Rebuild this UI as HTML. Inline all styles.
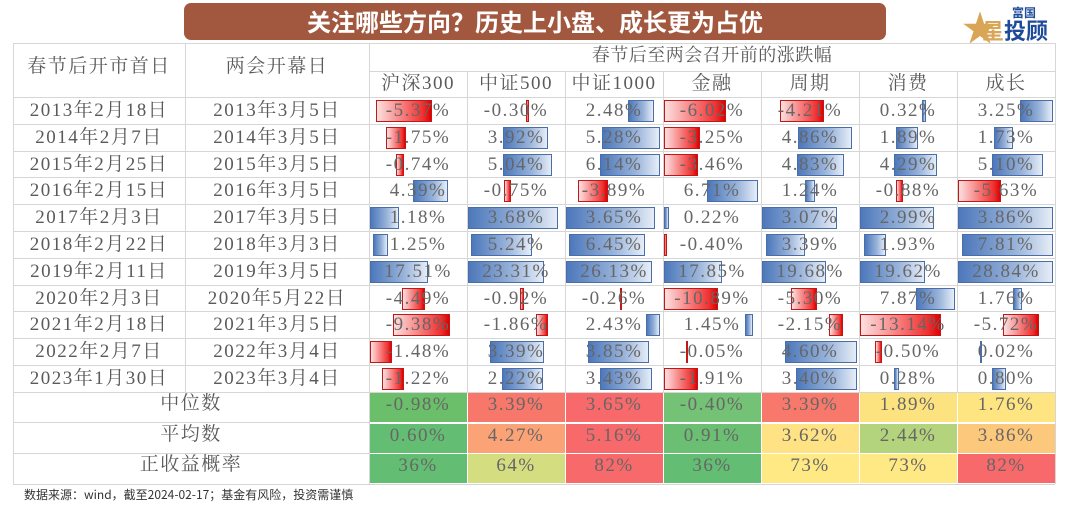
<!DOCTYPE html>
<html style="width:1080px;height:513px;overflow:hidden"><head><meta charset="utf-8">
<style>
html,body{margin:0;width:1080px;height:513px;overflow:hidden}
body{background:#fff;position:relative;font-family:"Liberation Serif","Noto Serif CJK SC",serif;color:#555}
.a{position:absolute}
.t{position:absolute;text-align:center;white-space:nowrap;font-size:19px;line-height:27px;height:27px;letter-spacing:1.5px;color:#5a5a5a}
.hl{position:absolute;height:1px;background:#d6d6d6}
.vl{position:absolute;width:1px;background:#d6d6d6}
.rb{position:absolute;background:linear-gradient(90deg,#fde0e0,#f03030 85%,#e00000);border:1px solid #c01818;box-sizing:border-box}
.bb{position:absolute;background:linear-gradient(90deg,#4d78bb,#9ab4da 60%,#e6edf7);border:1px solid #4a6ea8;box-sizing:border-box}
</style></head><body>
<div class="a" style="left:184px;top:3px;width:702px;height:37px;background:#a2583f;border-radius:7px"></div>
<div class="a" style="left:184px;top:3px;width:702px;height:37px;line-height:37px;text-align:center;color:#fff;font:bold 24px 'Noto Sans CJK SC',sans-serif;">关注哪些方向？历史上小盘、成长更为占优</div>
<div class="a" style="left:962px;top:6px;width:30px;height:40px;color:#d9a557;font:bold 36px 'Noto Sans CJK SC',sans-serif;line-height:40px">★</div>
<div class="a" style="left:1012px;top:4px;color:#1d4a9a;font:bold 12px 'Noto Sans CJK SC',sans-serif">富国</div>
<div class="a" style="left:982px;top:16px;color:#1d4a9a;font:bold 22px 'Noto Sans CJK SC',sans-serif;line-height:28px"><span style="color:#d9a557">星</span>投顾</div>
<div id="tb"></div>
<div class="a" style="left:24px;top:487px;font:12px 'Noto Sans CJK SC',sans-serif;color:#333;line-height:16px">数据来源：wind，截至2024-02-17；基金有风险，投资需谨慎</div>
<script>
var h='';
function T(x,y,w,s,st){h+='<div class="t" style="left:'+x+'px;top:'+y+'px;width:'+w+'px;'+(st||'')+'">'+s+'</div>';}
var cx=[369,467,565,663,761,859,957,1055];
var top0=97,rh=26.8;
h+='<div class="hl" style="left:13px;top:43px;width:1042px"></div>';
h+='<div class="hl" style="left:369px;top:71px;width:686px"></div>';
for(var i=0;i<=11;i++)h+='<div class="hl" style="left:13px;top:'+Math.round(top0+i*rh)+'px;width:1042px"></div>';
h+='<div class="hl" style="left:13px;top:422px;width:356px"></div><div class="hl" style="left:13px;top:453px;width:356px"></div><div class="hl" style="left:13px;top:484px;width:1042px"></div>';
h+='<div class="vl" style="left:13px;top:43px;height:441px"></div>';
h+='<div class="vl" style="left:185px;top:43px;height:349px"></div>';
h+='<div class="vl" style="left:369px;top:43px;height:441px"></div>';
h+='<div class="vl" style="left:1055px;top:43px;height:441px"></div>';
for(var c=1;c<7;c++)h+='<div class="vl" style="left:'+cx[c]+'px;top:71px;height:321px"></div>';
T(13,53,172,'春节后开市首日');T(185,53,184,'两会开幕日');T(369,42,686,'春节后至两会召开前的涨跌幅','font-size:18px;letter-spacing:0.5px');
var hd=['沪深300','中证500','中证1000','金融','周期','消费','成长'];
for(var c=0;c<7;c++)T(cx[c],70,98,hd[c]);
var d1=['2013年2月18日','2014年2月7日','2015年2月25日','2016年2月15日','2017年2月3日','2018年2月22日','2019年2月11日','2020年2月3日','2021年2月18日','2022年2月7日','2023年1月30日'];
var d2=['2013年3月5日','2014年3月5日','2015年3月5日','2016年3月5日','2017年3月5日','2018年3月3日','2019年3月5日','2020年5月22日','2021年3月5日','2022年3月4日','2023年3月4日'];
var V=[
['-5.37%','-0.30%','2.48%','-6.02%','-4.21%','0.32%','3.25%'],
['-1.75%','3.92%','5.28%','-3.25%','4.86%','1.89%','1.73%'],
['-0.74%','5.04%','6.14%','-3.46%','4.83%','4.29%','5.10%'],
['4.39%','-0.75%','-3.89%','6.71%','1.24%','-0.88%','-5.63%'],
['1.18%','3.68%','3.65%','0.22%','3.07%','2.99%','3.86%'],
['1.25%','5.24%','6.45%','-0.40%','3.39%','1.93%','7.81%'],
['17.51%','23.31%','26.13%','17.85%','19.68%','19.62%','28.84%'],
['-4.49%','-0.92%','-0.26%','-10.89%','-5.30%','7.87%','1.76%'],
['-9.38%','-1.86%','2.43%','1.45%','-2.15%','-13.14%','-5.72%'],
['-1.48%','3.39%','3.85%','-0.05%','4.60%','-0.50%','0.02%'],
['-1.22%','2.22%','3.43%','-1.91%','3.40%','0.28%','0.80%']];
var B=[
[[376,432],[526,529],[628,654],[664,726],[780,824],[922,926],[1020,1053]],
[[386,406],[503,548],[602,660],[664,700],[798,852],[896,918],[994,1013]],
[[396,404],[503,552],[600,660],[664,698],[797,844],[894,937],[992,1043]],
[[413,448],[504,511],[578,608],[707,758],[805,815],[896,903],[958,1001]],
[[370,399],[468,558],[566,655],[664,669],[762,837],[860,934],[958,1053]],
[[373,388],[471,532],[569,645],[664,667],[766,805],[864,886],[962,1053]],
[[370,428],[468,544],[566,652],[664,722],[762,826],[860,925],[958,1053]],
[[402,425],[520,524],[620,622],[664,718],[791,817],[916,955],[1013,1022]],
[[393,450],[536,548],[646,660],[745,753],[829,843],[860,941],[1003,1039]],
[[370,392],[490,544],[588,649],[686,688],[785,857],[875,882],[980,982]],
[[382,404],[502,543],[600,652],[664,698],[796,857],[894,899],[992,1006]]];
for(var r=0;r<11;r++){
 var y=top0+r*rh;
 T(13,y,172,d1[r]);T(185,y,184,d2[r]);
 for(var c=0;c<7;c++){
  var b=B[r][c],neg=V[r][c][0]=='-';
  h+='<div class="'+(neg?'rb':'bb')+'" style="left:'+b[0]+'px;top:'+Math.round(y+3)+'px;width:'+Math.max(2,b[1]-b[0])+'px;height:22px"></div>';
  T(cx[c],y,98,V[r][c],'color:#666');
 }
}
var S=[['中位数',['-0.98%','3.39%','3.65%','-0.40%','3.39%','1.89%','1.76%'],['#6bbf6b','#f8776b','#f8696b','#74c276','#f8796b','#fde37f','#fee582']],
['平均数',['0.60%','4.27%','5.16%','0.91%','3.62%','2.44%','3.86%'],['#63be73','#fba276','#f8696b','#6bbf72','#fee283','#b3d47c','#fcc87b']],
['正收益概率',['36%','64%','82%','36%','73%','73%','82%'],['#63be73','#d4dd80','#f8696b','#63be73','#ffe984','#ffe984','#f8696b']]];
var sy=[392,422.5,453];
for(var s=0;s<3;s++){
 T(13,sy[s]-2,356,S[s][0]);
 for(var c=0;c<7;c++){
  h+='<div class="a" style="left:'+(cx[c]+1)+'px;top:'+(sy[s]+1)+'px;width:97px;height:29px;background:'+S[s][2][c]+'"></div>';
  T(cx[c],sy[s]-1,98,S[s][1][c],'color:#666');
 }
}
document.getElementById('tb').innerHTML=h;
</script>
</body></html>
